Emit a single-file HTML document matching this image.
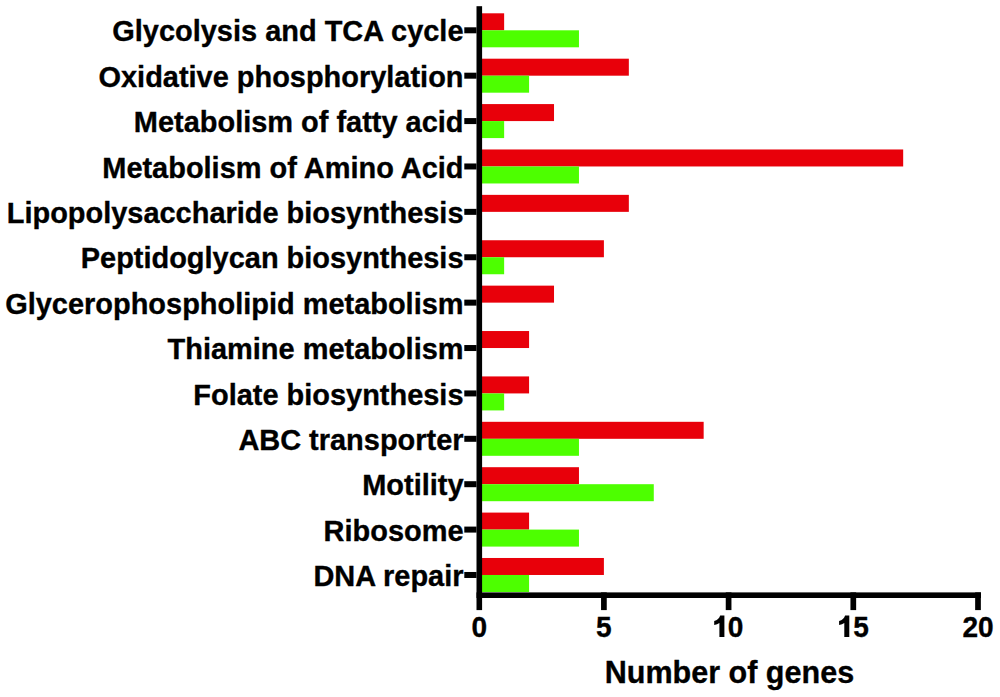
<!DOCTYPE html><html><head><meta charset="utf-8"><style>html,body{margin:0;padding:0;background:#fff;width:1000px;height:697px;overflow:hidden}svg{display:block}text{font-family:"Liberation Sans",sans-serif;font-weight:bold;fill:#000;stroke:#000;stroke-width:0.35px}</style></head><body>
<svg width="1000" height="697" viewBox="0 0 1000 697">
<rect x="479.2" y="13.30" width="24.94" height="17" fill="#e8000a"/>
<rect x="479.2" y="30.30" width="99.76" height="17" fill="#4dff00"/>
<rect x="464.3" y="27.30" width="12.20" height="6" fill="#000"/>
<text transform="translate(463.50,41.40) scale(0.965,1)" text-anchor="end" font-size="30">Glycolysis and TCA cycle</text>
<rect x="479.2" y="58.69" width="149.64000000000001" height="17" fill="#e8000a"/>
<rect x="479.2" y="75.69" width="49.88" height="17" fill="#4dff00"/>
<rect x="464.3" y="72.69" width="12.20" height="6" fill="#000"/>
<text transform="translate(463.50,86.79) scale(0.965,1)" text-anchor="end" font-size="30">Oxidative phosphorylation</text>
<rect x="479.2" y="104.08" width="74.82000000000001" height="17" fill="#e8000a"/>
<rect x="479.2" y="121.08" width="24.94" height="17" fill="#4dff00"/>
<rect x="464.3" y="118.08" width="12.20" height="6" fill="#000"/>
<text transform="translate(463.50,132.18) scale(0.965,1)" text-anchor="end" font-size="30">Metabolism of fatty acid</text>
<rect x="479.2" y="149.47" width="423.98" height="17" fill="#e8000a"/>
<rect x="479.2" y="166.47" width="99.76" height="17" fill="#4dff00"/>
<rect x="464.3" y="163.47" width="12.20" height="6" fill="#000"/>
<text transform="translate(463.50,177.57) scale(0.965,1)" text-anchor="end" font-size="30">Metabolism of Amino Acid</text>
<rect x="479.2" y="194.86" width="149.64000000000001" height="17" fill="#e8000a"/>
<rect x="464.3" y="208.86" width="12.20" height="6" fill="#000"/>
<text transform="translate(463.50,222.96) scale(0.965,1)" text-anchor="end" font-size="30">Lipopolysaccharide biosynthesis</text>
<rect x="479.2" y="240.25" width="124.7" height="17" fill="#e8000a"/>
<rect x="479.2" y="257.25" width="24.94" height="17" fill="#4dff00"/>
<rect x="464.3" y="254.25" width="12.20" height="6" fill="#000"/>
<text transform="translate(463.50,268.35) scale(0.965,1)" text-anchor="end" font-size="30">Peptidoglycan biosynthesis</text>
<rect x="479.2" y="285.64" width="74.82000000000001" height="17" fill="#e8000a"/>
<rect x="464.3" y="299.64" width="12.20" height="6" fill="#000"/>
<text transform="translate(463.50,313.74) scale(0.965,1)" text-anchor="end" font-size="30">Glycerophospholipid metabolism</text>
<rect x="479.2" y="331.03" width="49.88" height="17" fill="#e8000a"/>
<rect x="464.3" y="345.03" width="12.20" height="6" fill="#000"/>
<text transform="translate(463.50,359.13) scale(0.965,1)" text-anchor="end" font-size="30">Thiamine metabolism</text>
<rect x="479.2" y="376.42" width="49.88" height="17" fill="#e8000a"/>
<rect x="479.2" y="393.42" width="24.94" height="17" fill="#4dff00"/>
<rect x="464.3" y="390.42" width="12.20" height="6" fill="#000"/>
<text transform="translate(463.50,404.52) scale(0.965,1)" text-anchor="end" font-size="30">Folate biosynthesis</text>
<rect x="479.2" y="421.81" width="224.46" height="17" fill="#e8000a"/>
<rect x="479.2" y="438.81" width="99.76" height="17" fill="#4dff00"/>
<rect x="464.3" y="435.81" width="12.20" height="6" fill="#000"/>
<text transform="translate(463.50,449.91) scale(0.965,1)" text-anchor="end" font-size="30">ABC transporter</text>
<rect x="479.2" y="467.20" width="99.76" height="17" fill="#e8000a"/>
<rect x="479.2" y="484.20" width="174.58" height="17" fill="#4dff00"/>
<rect x="464.3" y="481.20" width="12.20" height="6" fill="#000"/>
<text transform="translate(463.50,495.30) scale(0.965,1)" text-anchor="end" font-size="30">Motility</text>
<rect x="479.2" y="512.59" width="49.88" height="17" fill="#e8000a"/>
<rect x="479.2" y="529.59" width="99.76" height="17" fill="#4dff00"/>
<rect x="464.3" y="526.59" width="12.20" height="6" fill="#000"/>
<text transform="translate(463.50,540.69) scale(0.965,1)" text-anchor="end" font-size="30">Ribosome</text>
<rect x="479.2" y="557.98" width="124.7" height="17" fill="#e8000a"/>
<rect x="479.2" y="574.98" width="49.88" height="17" fill="#4dff00"/>
<rect x="464.3" y="571.98" width="12.20" height="6" fill="#000"/>
<text transform="translate(463.50,586.08) scale(0.965,1)" text-anchor="end" font-size="30">DNA repair</text>
<rect x="476.5" y="6.2" width="5.6" height="603.9" fill="#000"/>
<rect x="476.5" y="592.4" width="504.5" height="5.6" fill="#000"/>
<rect x="601.05" y="592.4" width="5.7" height="17.700000000000045" fill="#000"/>
<rect x="725.75" y="592.4" width="5.7" height="17.700000000000045" fill="#000"/>
<rect x="850.45" y="592.4" width="5.7" height="17.700000000000045" fill="#000"/>
<rect x="975.15" y="592.4" width="5.7" height="17.700000000000045" fill="#000"/>
<text transform="translate(479.20,637.00) scale(0.93,1)" text-anchor="middle" font-size="30.2">0</text>
<text transform="translate(603.90,637.00) scale(0.93,1)" text-anchor="middle" font-size="30.2">5</text>
<text transform="translate(978.00,637.00) scale(0.93,1)" text-anchor="middle" font-size="30.2">20</text>
<path transform="translate(714.2,615.60)" d="M10.2 0 L10.2 21.4 L5.2 21.4 L5.2 7.4 Q3.2 8.9 0 9.5 L0 5.5 Q4.6 4.3 6.0 0 Z" fill="#000"/>
<text transform="translate(727.68,637.00) scale(0.93,1)" text-anchor="start" font-size="30.2">0</text>
<path transform="translate(839.1,615.60)" d="M10.2 0 L10.2 21.4 L5.2 21.4 L5.2 7.4 Q3.2 8.9 0 9.5 L0 5.5 Q4.6 4.3 6.0 0 Z" fill="#000"/>
<text transform="translate(853.33,637.00) scale(0.93,1)" text-anchor="start" font-size="30.2">5</text>
<text transform="translate(604.70,682.60) scale(0.955,1)" text-anchor="start" font-size="32">Number of genes</text>
</svg></body></html>
